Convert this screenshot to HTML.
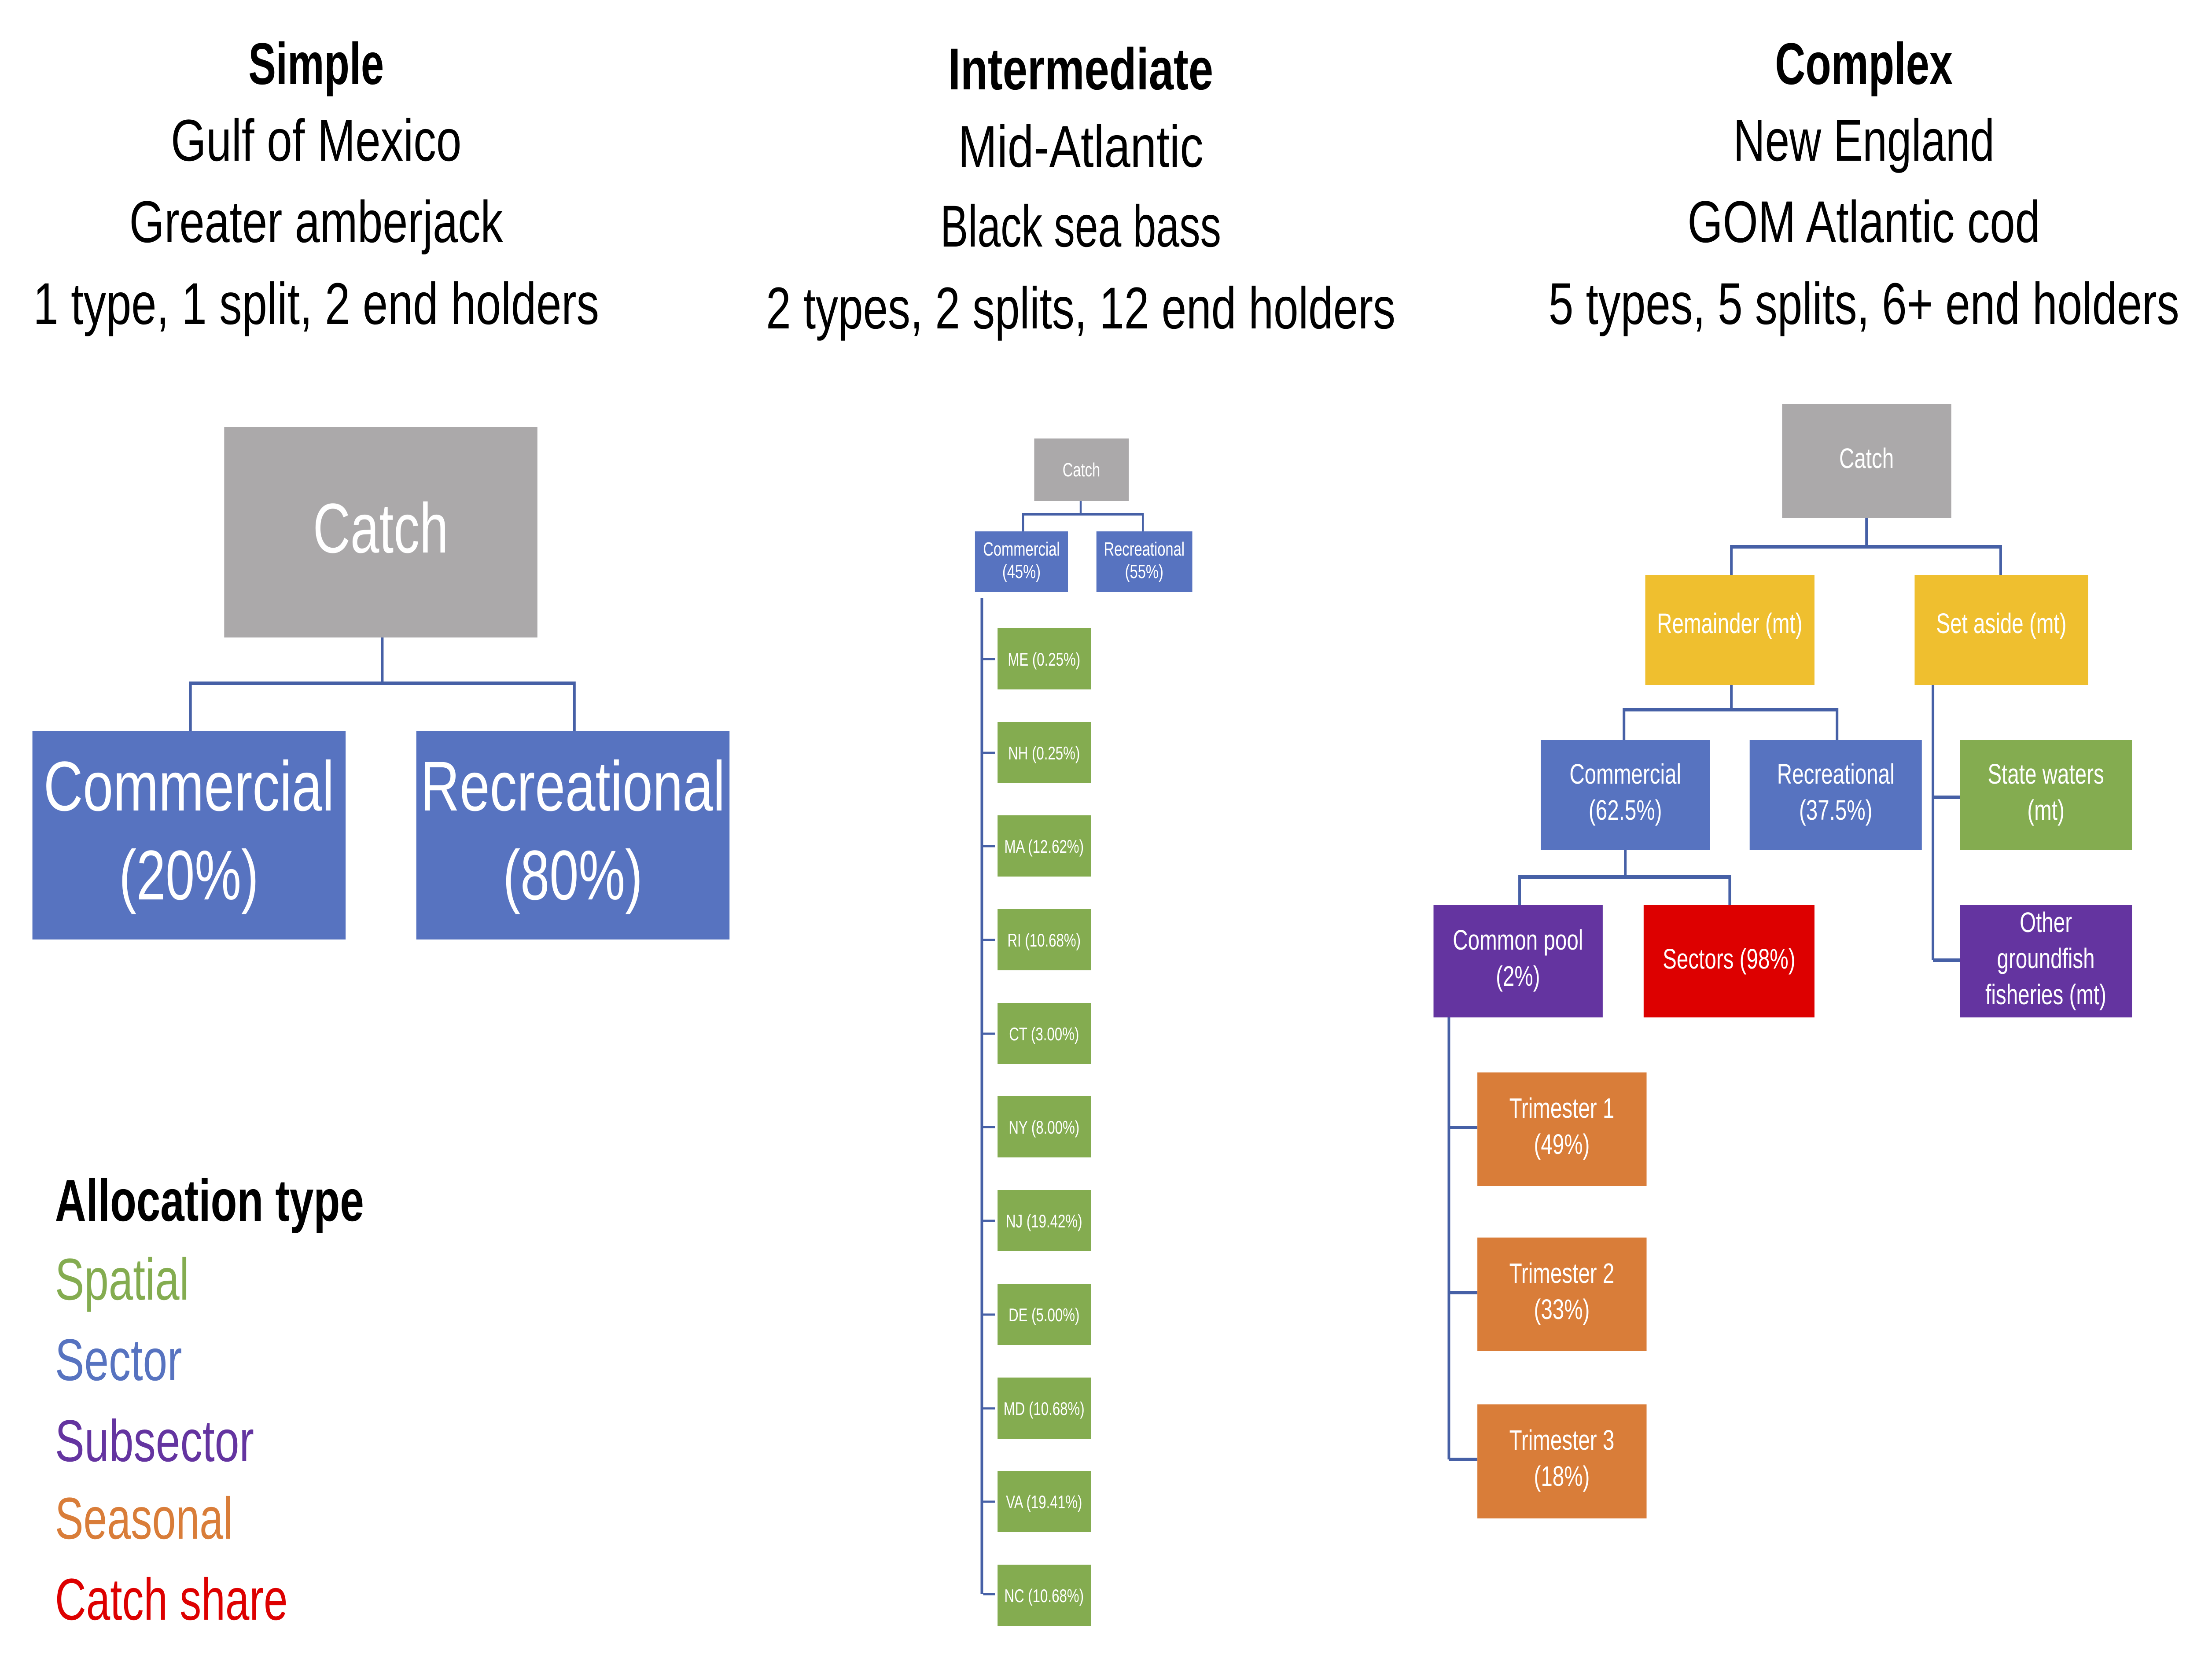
<!DOCTYPE html>
<html><head><meta charset="utf-8"><style>html,body{margin:0;padding:0;background:#fff;width:100%;height:100%;overflow:hidden}svg{display:block;width:100vw;height:100vh}</style></head>
<body>
<svg xmlns="http://www.w3.org/2000/svg" viewBox="0 0 6725 3816" preserveAspectRatio="none" font-family="Liberation Sans, sans-serif">
<rect width="6725" height="3816" fill="#fff"/>
<g font-size="134" fill="#000" text-anchor="middle">
<text x="966" y="191" font-weight="bold" textLength="414" lengthAdjust="spacingAndGlyphs">Simple</text>
<text x="966" y="365" textLength="888" lengthAdjust="spacingAndGlyphs">Gulf of Mexico</text>
<text x="966" y="550" textLength="1142" lengthAdjust="spacingAndGlyphs">Greater amberjack</text>
<text x="966" y="736" textLength="1729" lengthAdjust="spacingAndGlyphs">1 type, 1 split, 2 end holders</text>
<text x="3302" y="203" font-weight="bold" textLength="810" lengthAdjust="spacingAndGlyphs">Intermediate</text>
<text x="3302" y="379" textLength="750" lengthAdjust="spacingAndGlyphs">Mid-Atlantic</text>
<text x="3302" y="560" textLength="858" lengthAdjust="spacingAndGlyphs">Black sea bass</text>
<text x="3302" y="746" textLength="1923" lengthAdjust="spacingAndGlyphs">2 types, 2 splits, 12 end holders</text>
<text x="5695" y="191" font-weight="bold" textLength="543" lengthAdjust="spacingAndGlyphs">Complex</text>
<text x="5695" y="365" textLength="798" lengthAdjust="spacingAndGlyphs">New England</text>
<text x="5695" y="550" textLength="1078" lengthAdjust="spacingAndGlyphs">GOM Atlantic cod</text>
<text x="5695" y="736" textLength="1927" lengthAdjust="spacingAndGlyphs">5 types, 5 splits, 6+ end holders</text>
</g>
<g font-size="134">
<text x="168" y="2773" font-weight="bold" fill="#000" textLength="944" lengthAdjust="spacingAndGlyphs">Allocation type</text>
<text x="168" y="2952" fill="#84ac50" textLength="410" lengthAdjust="spacingAndGlyphs">Spatial</text>
<text x="168" y="3135" fill="#5773c0" textLength="388" lengthAdjust="spacingAndGlyphs">Sector</text>
<text x="168" y="3319" fill="#6434a0" textLength="608" lengthAdjust="spacingAndGlyphs">Subsector</text>
<text x="168" y="3495" fill="#d97d39" textLength="543" lengthAdjust="spacingAndGlyphs">Seasonal</text>
<text x="168" y="3679" fill="#dd0000" textLength="711" lengthAdjust="spacingAndGlyphs">Catch share</text>
</g>
<g fill="none" stroke="#4660a6" stroke-width="8">
<path d="M1168 1448V1552M582 1660V1552H1755V1660"/>
</g>
<rect x="685" y="970" width="957" height="478" fill="#aba9aa"/>
<rect x="99" y="1660" width="957" height="474" fill="#5773c0"/>
<rect x="1272" y="1660" width="957" height="474" fill="#5773c0"/>
<g fill="#fff" font-size="160" text-anchor="middle">
<text x="1163" y="1255" textLength="414" lengthAdjust="spacingAndGlyphs">Catch</text>
<text x="577" y="1841" textLength="888" lengthAdjust="spacingAndGlyphs">Commercial</text>
<text x="577" y="2043">(20%)</text>
<text x="1750" y="1841" textLength="931" lengthAdjust="spacingAndGlyphs">Recreational</text>
<text x="1750" y="2043">(80%)</text>
</g>
<g fill="none" stroke="#4660a6" stroke-width="6">
<path d="M3302 1138V1168M3126 1207V1168H3492V1207"/>
</g>
<rect x="3160" y="996" width="289" height="142" fill="#aba9aa"/>
<rect x="2979" y="1207" width="284" height="138" fill="#5773c0"/>
<rect x="3350" y="1207" width="293" height="138" fill="#5773c0"/>
<rect x="2996" y="1358" width="8" height="2263" fill="#4660a6"/>
<g fill="#fff" font-size="44" text-anchor="middle">
<text x="3304" y="1082">Catch</text>
<text x="3121" y="1262">Commercial</text>
<text x="3121" y="1313">(45%)</text>
<text x="3496" y="1262">Recreational</text>
<text x="3496" y="1313">(55%)</text>
</g>
<g fill="#84ac50">
<rect x="3048" y="1427" width="285" height="139"/>
<rect x="3048" y="1640" width="285" height="139"/>
<rect x="3048" y="1852" width="285" height="139"/>
<rect x="3048" y="2065" width="285" height="139"/>
<rect x="3048" y="2278" width="285" height="139"/>
<rect x="3048" y="2490" width="285" height="139"/>
<rect x="3048" y="2703" width="285" height="139"/>
<rect x="3048" y="2916" width="285" height="139"/>
<rect x="3048" y="3129" width="285" height="139"/>
<rect x="3048" y="3341" width="285" height="139"/>
<rect x="3048" y="3554" width="285" height="139"/>
</g>
<g stroke="#4660a6" stroke-width="5">
<path d="M3004 1497H3040M3004 1710H3040M3004 1922H3040M3004 2135H3040M3004 2348H3040M3004 2560H3040M3004 2773H3040M3004 2986H3040M3004 3199H3040M3004 3411H3040M3004 3621H3040"/>
</g>
<g fill="#fff" font-size="42" text-anchor="middle">
<text x="3190" y="1512">ME (0.25%)</text>
<text x="3190" y="1725">NH (0.25%)</text>
<text x="3190" y="1937">MA (12.62%)</text>
<text x="3190" y="2150">RI (10.68%)</text>
<text x="3190" y="2363">CT (3.00%)</text>
<text x="3190" y="2575">NY (8.00%)</text>
<text x="3190" y="2788">NJ (19.42%)</text>
<text x="3190" y="3001">DE (5.00%)</text>
<text x="3190" y="3214">MD (10.68%)</text>
<text x="3190" y="3426">VA (19.41%)</text>
<text x="3190" y="3639">NC (10.68%)</text>
</g>
<g fill="none" stroke="#4660a6" stroke-width="8">
<path d="M5703 1177V1242M5290 1306V1242H6113V1306"/>
<path d="M5290 1556V1612M4962 1681V1612H5613V1681"/>
<path d="M4966 1931V1992M4643 2056V1992H5285V2056"/>
<path d="M5906 1556V2181M5906 1811H5988M5906 2181H5988"/>
<path d="M4427 2311V3315M4427 2561H4514M4427 2936H4514M4427 3315H4514"/>
</g>
<rect x="5445" y="918" width="517" height="259" fill="#aba9aa"/>
<rect x="5027" y="1306" width="517" height="250" fill="#efbf2f"/>
<rect x="5850" y="1306" width="530" height="250" fill="#efbf2f"/>
<rect x="4708" y="1681" width="517" height="250" fill="#5773c0"/>
<rect x="5346" y="1681" width="526" height="250" fill="#5773c0"/>
<rect x="5988" y="1681" width="526" height="250" fill="#84ac50"/>
<rect x="4380" y="2056" width="517" height="255" fill="#6434a0"/>
<rect x="5022" y="2056" width="522" height="255" fill="#dd0000"/>
<rect x="5988" y="2056" width="526" height="255" fill="#6434a0"/>
<rect x="4514" y="2436" width="517" height="258" fill="#d97d39"/>
<rect x="4514" y="2811" width="517" height="258" fill="#d97d39"/>
<rect x="4514" y="3190" width="517" height="259" fill="#d97d39"/>
<g fill="#fff" font-size="64" text-anchor="middle">
<text x="5703" y="1063">Catch</text>
<text x="5285" y="1438">Remainder (mt)</text>
<text x="6115" y="1438">Set aside (mt)</text>
<text x="4966" y="1780">Commercial</text>
<text x="4966" y="1862">(62.5%)</text>
<text x="5609" y="1780">Recreational</text>
<text x="5609" y="1862">(37.5%)</text>
<text x="6251" y="1780">State waters</text>
<text x="6251" y="1862">(mt)</text>
<text x="4638" y="2157">Common pool</text>
<text x="4638" y="2239">(2%)</text>
<text x="5283" y="2200">Sectors (98%)</text>
<text x="6251" y="2117">Other</text>
<text x="6251" y="2199">groundfish</text>
<text x="6251" y="2281">fisheries (mt)</text>
<text x="4772" y="2539">Trimester 1</text>
<text x="4772" y="2621">(49%)</text>
<text x="4772" y="2914">Trimester 2</text>
<text x="4772" y="2996">(33%)</text>
<text x="4772" y="3293">Trimester 3</text>
<text x="4772" y="3375">(18%)</text>
</g>
</svg>
</body></html>
